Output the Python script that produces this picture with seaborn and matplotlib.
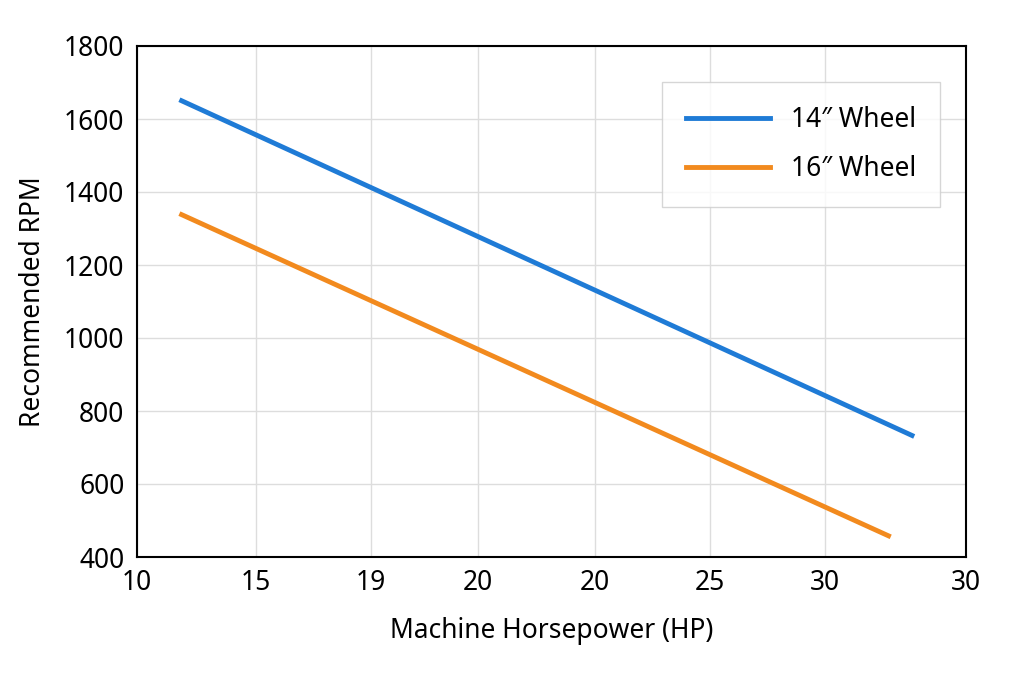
import matplotlib
matplotlib.use("Agg")
import matplotlib.pyplot as plt
import seaborn as sns
import pandas as pd

plt.rcParams["font.family"] = "Noto Sans"

hp_14 = [11.9, 43.0]
rpm_14 = [1650, 733]
hp_16 = [11.9, 42.0]
rpm_16 = [1338, 458]
xtick_pos = [10, 15.06, 19.96, 24.5, 29.5, 34.4, 39.3, 45.3]
xtick_labels = ["10", "15", "19", "20", "20", "25", "30", "30"]
yticks = [400, 600, 800, 1000, 1200, 1400, 1600, 1800]

df = pd.concat([
    pd.DataFrame({"hp": hp_14, "rpm": rpm_14, "series": "14\u2033 Wheel"}),
    pd.DataFrame({"hp": hp_16, "rpm": rpm_16, "series": "16\u2033 Wheel"}),
])

fig = plt.figure(figsize=(10.24, 6.83), dpi=100)
ax = fig.add_axes([137/1024, 1-557/683, (966-137)/1024, (557-46)/683])
sns.lineplot(data=df, x="hp", y="rpm", hue="series",
             palette=["#1f7bd6", "#f28a1e"], linewidth=3.5, ax=ax)
ax.set_xlim(10, 45.3)
ax.set_ylim(400, 1800)
ax.set_xticks(xtick_pos)
ax.set_xticklabels(xtick_labels)
ax.set_yticks(yticks)
ax.tick_params(labelsize=19, length=0, pad=9)
ax.grid(True, color="#dddddd", linewidth=1)
for s in ax.spines.values():
    s.set_linewidth(1.5)
    s.set_color("black")
ax.set_xlabel("Machine Horsepower (HP)", fontsize=19, labelpad=14)
ax.set_ylabel("Recommended RPM", fontsize=19, labelpad=12)
leg = ax.legend(title=None, fontsize=19, loc="upper right",
                bbox_to_anchor=(0.985, 0.955), fancybox=False,
                borderpad=0.9, handlelength=3.2, labelspacing=0.8)
leg.get_frame().set_edgecolor("#cccccc")
fig.savefig("out.png", dpi=100)
